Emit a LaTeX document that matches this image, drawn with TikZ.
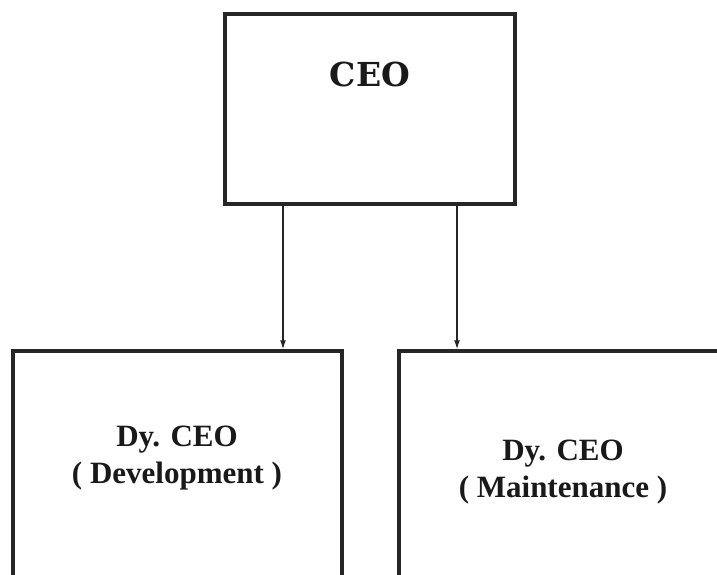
\documentclass[tikz,border=0pt]{standalone}
\usepackage{fontspec}
\setmainfont{Liberation Serif}
\newfontfamily\headfont{DejaVu Serif}[BoldFont={DejaVu Serif Bold}]
\usetikzlibrary{positioning,arrows.meta}

\begin{document}
\begin{tikzpicture}[x=1pt, y=-1pt,
  post/.style={draw=black!85, line width=3.5pt, inner sep=0pt},
  link/.style={-{Latex[length=9pt,width=6pt]}, draw=black!85, line width=1.3pt},
  title/.style={align=center, text=black!90, font=\fontsize{31}{37}\selectfont\bfseries}]
  \useasboundingbox (0,0) rectangle (717,575);

  % top post
  \node[post, minimum width=290pt, minimum height=190pt] (ceo) at (370,109) {};
  \node[title, font=\headfont\fontsize{33}{37}\selectfont\bfseries] (ceot) at (370,74) {CEO};

  % the two deputies
  \node[post, minimum width=329pt, minimum height=269pt] (dev) at (177.5,485.5) {};
  \node[title] (devt) at (177,458) {Dy. CEO\\( Development )};

  \node[post, minimum width=329pt, minimum height=269pt] (mnt) at (563.5,485.5) {};
  \node[title] (mntt) at (563,472) {Dy. CEO\\( Maintenance )};

  \draw[link] ([xshift=-87pt]ceo.south) -- ([xshift=-87pt]ceo.south |- dev.north);
  \draw[link] ([xshift=87pt]ceo.south) -- ([xshift=87pt]ceo.south |- mnt.north);
\end{tikzpicture}
\end{document}
